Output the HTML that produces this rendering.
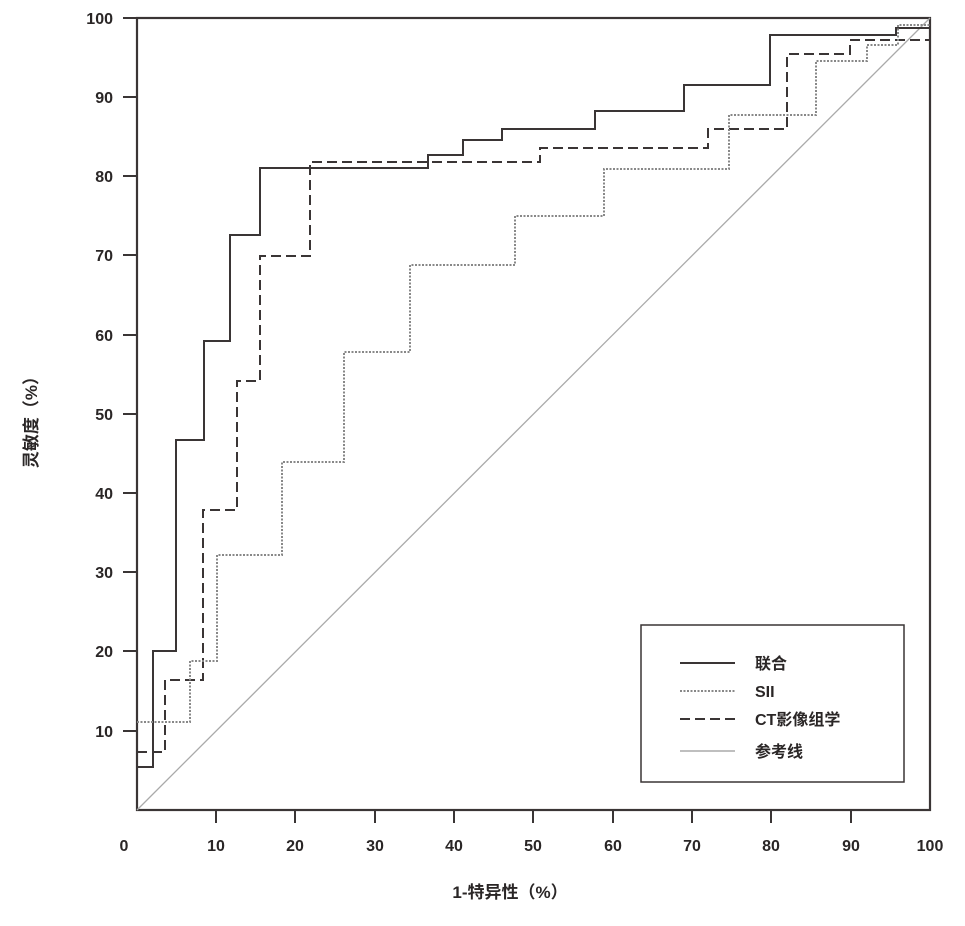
<!DOCTYPE html>
<html><head><meta charset="utf-8"><style>
body{margin:0;background:#fff;}
svg text{font-family:"Liberation Sans","Noto Sans CJK SC",sans-serif;font-weight:bold;fill:#2a2626;}
</style></head><body>
<svg width="965" height="921" viewBox="0 0 965 921" xmlns="http://www.w3.org/2000/svg">
<rect x="137" y="18" width="793" height="792" fill="none" stroke="#3a3535" stroke-width="2.2"/>
<line x1="137" y1="810" x2="930" y2="18" stroke="#aaa" stroke-width="1.3"/>
<g stroke="#3a3535" stroke-width="2">
<line x1="123" y1="731" x2="137" y2="731"/><line x1="123" y1="651" x2="137" y2="651"/><line x1="123" y1="572" x2="137" y2="572"/><line x1="123" y1="493" x2="137" y2="493"/><line x1="123" y1="414" x2="137" y2="414"/><line x1="123" y1="335" x2="137" y2="335"/><line x1="123" y1="255" x2="137" y2="255"/><line x1="123" y1="176" x2="137" y2="176"/><line x1="123" y1="97" x2="137" y2="97"/><line x1="123" y1="18" x2="137" y2="18"/>
<line x1="216" y1="810" x2="216" y2="823"/><line x1="295" y1="810" x2="295" y2="823"/><line x1="375" y1="810" x2="375" y2="823"/><line x1="454" y1="810" x2="454" y2="823"/><line x1="533" y1="810" x2="533" y2="823"/><line x1="613" y1="810" x2="613" y2="823"/><line x1="692" y1="810" x2="692" y2="823"/><line x1="771" y1="810" x2="771" y2="823"/><line x1="851" y1="810" x2="851" y2="823"/>
</g>
<g font-size="16" text-anchor="end">
<text x="113" y="737">10</text><text x="113" y="657">20</text><text x="113" y="578">30</text><text x="113" y="499">40</text><text x="113" y="420">50</text><text x="113" y="341">60</text><text x="113" y="261">70</text><text x="113" y="182">80</text><text x="113" y="103">90</text><text x="113" y="24">100</text>
</g>
<g font-size="16" text-anchor="middle">
<text x="124" y="851">0</text><text x="216" y="851">10</text><text x="295" y="851">20</text><text x="375" y="851">30</text><text x="454" y="851">40</text><text x="533" y="851">50</text><text x="613" y="851">60</text><text x="692" y="851">70</text><text x="771" y="851">80</text><text x="851" y="851">90</text><text x="930" y="851">100</text>
</g>
<text x="510" y="898" font-size="17" text-anchor="middle">1-特异性（%）</text>
<text transform="translate(37,418) rotate(-90)" font-size="17" text-anchor="middle">灵敏度（%）</text>
<polyline fill="none" stroke="#3a3535" stroke-width="2" points="137,767 153,767 153,651 176,651 176,440 204,440 204,341 230,341 230,235 260,235 260,168 428,168 428,155 463,155 463,140 502,140 502,129 595,129 595,111 684,111 684,85 770,85 770,35 896,35 896,28 930,28"/>
<polyline fill="none" stroke="#3a3535" stroke-width="2" stroke-dasharray="10,5" points="137,752 165,752 165,680 203,680 203,510 237,510 237,381 260,381 260,256 310,256 310,162 540,162 540,148 708,148 708,129 787,129 787,54 850,54 850,40 930,40"/>
<polyline fill="none" stroke="#888" stroke-width="2" stroke-dasharray="2,1.5" points="137,722 190,722 190,661 217,661 217,555 282,555 282,462 344,462 344,352 410,352 410,265 515,265 515,216 604,216 604,169 729,169 729,115 816,115 816,61 867,61 867,45 898,45 898,25 930,25"/>
<rect x="641" y="625" width="263" height="157" fill="#fff" stroke="#3a3535" stroke-width="1.5"/>
<line x1="680" y1="663" x2="735" y2="663" stroke="#3a3535" stroke-width="2"/>
<line x1="680" y1="691" x2="735" y2="691" stroke="#888" stroke-width="2" stroke-dasharray="2,1.5"/>
<line x1="680" y1="719" x2="735" y2="719" stroke="#3a3535" stroke-width="2" stroke-dasharray="10,5"/>
<line x1="680" y1="751" x2="735" y2="751" stroke="#aaa" stroke-width="1.5"/>
<g font-size="16"><text x="755" y="669">联合</text><text x="755" y="697">SII</text><text x="755" y="725">CT影像组学</text><text x="755" y="757">参考线</text></g>
</svg>
</body></html>
